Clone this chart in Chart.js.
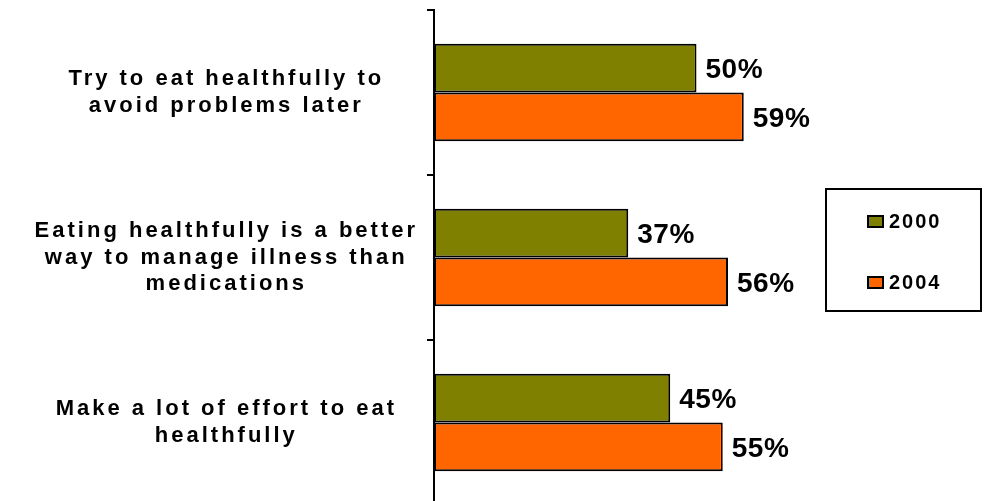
<!DOCTYPE html>
<html>
<head>
<meta charset="utf-8">
<script src="https://cdn.jsdelivr.net/npm/chart.js@4/dist/chart.umd.min.js"></script>
<style>
  html, body { margin: 0; background: #fff; overflow: hidden; }
  canvas { display: block; }
</style>
</head>
<body>
<canvas id="healthChart" width="984" height="505"></canvas>
<script>
// Survey statements (multi-line labels) and share agreeing, by year
const statements = [
    ['Try to eat healthfully to', 'avoid problems later'],
    ['Eating healthfully is a better', 'way to manage illness than', 'medications'],
    ['Make a lot of effort to eat', 'healthfully']
];
const years = ['2000', '2004'];
const values2000 = [50, 37, 45];
const values2004 = [59, 56, 55];
const yearColors = ['#808000', '#FF6600'];

// wide letter spacing for the category labels
const spacedText = {
    id: 'spacedText',
    beforeLayout(chart) {
        chart.ctx.letterSpacing = '3px';
    }
};

// percentage labels at the end of each bar
const valueLabels = {
    id: 'valueLabels',
    afterDatasetsDraw(chart) {
        const ctx = chart.ctx;
        ctx.save();
        ctx.letterSpacing = '0.5px';
        ctx.font = 'bold 28px "Liberation Sans", Arial, sans-serif';
        ctx.fillStyle = '#000';
        ctx.textAlign = 'left';
        ctx.textBaseline = 'middle';
        chart.data.datasets.forEach(function(ds, i) {
            chart.getDatasetMeta(i).data.forEach(function(bar, j) {
                ctx.fillText(ds.data[j] + '%', bar.x + 9, bar.y + 2);
            });
        });
        ctx.restore();
    }
};

// boxed legend on the right
const boxLegend = {
    id: 'boxLegend',
    afterDraw(chart) {
        const ctx = chart.ctx;
        ctx.save();
        ctx.letterSpacing = '2px';
        ctx.strokeStyle = '#000';
        ctx.lineWidth = 2;
        ctx.strokeRect(826, 189, 155, 122);
        ctx.font = 'bold 20px "Liberation Sans", Arial, sans-serif';
        ctx.textBaseline = 'middle';
        chart.data.datasets.forEach(function(ds, i) {
            const y = 221 + i * 61;
            ctx.fillStyle = ds.backgroundColor;
            ctx.fillRect(868, y - 5, 15, 11);
            ctx.strokeRect(868, y - 5, 15, 11);
            ctx.fillStyle = '#000';
            ctx.fillText(ds.label, 889, y + 1);
        });
        ctx.restore();
    }
};

new Chart(document.getElementById('healthChart'), {
    type: 'bar',
    data: {
        labels: statements,
        datasets: [{
            label: years[0],
            data: values2000,
            backgroundColor: yearColors[0]
        }, {
            label: years[1],
            data: values2004,
            backgroundColor: yearColors[1]
        }]
    },
    options: {
        indexAxis: 'y',
        responsive: false,
        animation: false,
        categoryPercentage: 0.59,
        barPercentage: 1,
        borderColor: '#000',
        borderWidth: 2,
        borderSkipped: false,
        layout: {
            padding: { top: 10, right: 25, bottom: 0, left: 0 }
        },
        plugins: {
            legend: { display: false },
            tooltip: { enabled: false }
        },
        scales: {
            x: {
                display: false,
                min: 0,
                max: 100
            },
            y: {
                afterFit: function(axis) {
                    axis.width = 434;
                    axis.paddingTop = 0;
                    axis.paddingBottom = 0;
                },
                border: { display: true, color: '#000', width: 2 },
                grid: {
                    drawOnChartArea: false,
                    color: '#000',
                    lineWidth: 2,
                    tickLength: 7
                },
                ticks: {
                    crossAlign: 'center',
                    padding: 9,
                    color: '#000',
                    font: {
                        family: '"Liberation Sans", Arial, sans-serif',
                        size: 22,
                        weight: 'bold',
                        lineHeight: 1.2
                    }
                }
            }
        }
    },
    plugins: [spacedText, valueLabels, boxLegend]
});
</script>
</body>
</html>
